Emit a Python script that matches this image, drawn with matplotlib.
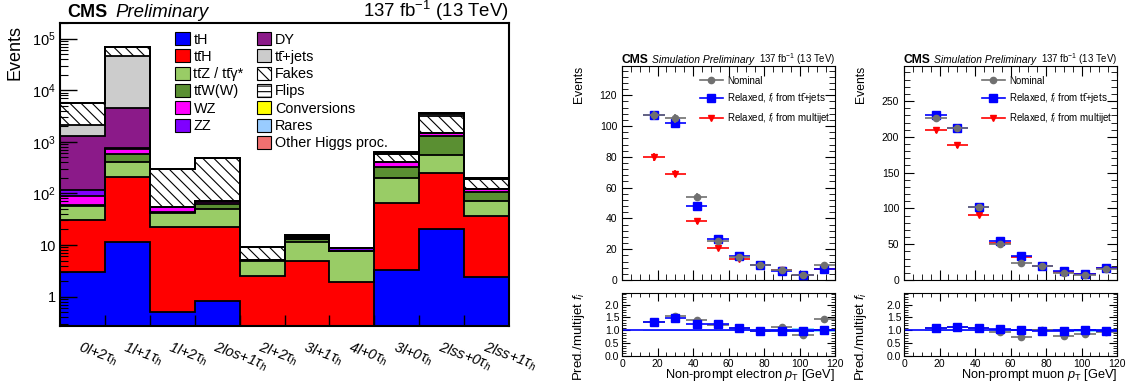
import numpy as np
import matplotlib
matplotlib.use("Agg")
import matplotlib.pyplot as plt
from matplotlib.patches import Patch
from matplotlib.lines import Line2D
from matplotlib.ticker import MultipleLocator, FixedLocator, FixedFormatter, LogLocator, NullFormatter

plt.rcParams['font.family'] = ['Liberation Sans', 'DejaVu Sans']
plt.rcParams['mathtext.fontset'] = 'custom'
plt.rcParams['mathtext.rm'] = 'Liberation Sans'
plt.rcParams['mathtext.it'] = 'Liberation Sans:italic'
plt.rcParams['mathtext.bf'] = 'Liberation Sans:bold'
plt.rcParams['hatch.linewidth'] = 0.8

# ---------------- left: stacked yields per category ----------------
categories = [r"0l+2$\tau_h$", r"1l+1$\tau_h$", r"1l+2$\tau_h$", r"2los+1$\tau_h$",
              r"2l+2$\tau_h$", r"3l+1$\tau_h$", r"4l+0$\tau_h$", r"3l+0$\tau_h$",
              r"2lss+0$\tau_h$", r"2lss+1$\tau_h$"]

tH     = [2.95, 11.2, 0.51, 0.81, 0.05, 0.05, 0.05, 3.3, 20.4, 2.44]
ttH    = [28, 193, 22.1, 21.2, 2.43, 4.75, 1.9, 60.7, 228, 33.5]
ttZ    = [27, 194, 20, 27.8, 2.5, 6.4, 5.55, 134, 304, 34]
ttW    = [1, 182, 1.5, 12, 0.05, 1.6, 0.0, 120, 754, 37]
WZ     = [32, 160, 9.5, 7, 0, 0.5, 0.0, 80, 174, 14]
ZZ     = [27, 20, 0.5, 1, 0, 1.0, 1.1, 12, 20, 2]
DY     = [1190, 3660, 0, 0, 0, 0, 0, 0, 0, 0]
ttjets = [830, 40500, 0, 0, 0, 0, 0, 0, 0, 0]
fakes  = [3610, 25000, 242, 413, 4.0, 1.3, 0.1, 170, 1590, 63]
flips  = [0, 0, 0, 0, 0, 0, 0, 0, 300, 5]
conv   = [0, 0, 0, 0, 0, 0, 0, 20, 150, 6]
rares  = [0, 0, 0, 0, 0, 0, 0, 20, 0, 0]
other  = [0, 0, 0, 0, 0, 0, 0, 0, 0, 0]

TT = "tt\u0304"
procs = [
    (tH, "#0000ff", None, "tH"),
    (ttH, "#ff0000", None, TT + "H"),
    (ttZ, "#99cc66", None, TT + "Z / " + TT + "\u03b3*"),
    (ttW, "#5a8f32", None, TT + "W(W)"),
    (WZ, "#ff00ff", None, "WZ"),
    (ZZ, "#7f00ff", None, "ZZ"),
    (DY, "#8b1a89", None, "DY"),
    (ttjets, "#cccccc", None, TT + "+jets"),
    (fakes, "white", "\\\\\\", "Fakes"),
    (flips, "white", "---", "Flips"),
    (conv, "#ffff00", None, "Conversions"),
    (rares, "#99ccff", None, "Rares"),
    (other, "#f07070", None, "Other Higgs proc."),
]

# ---------------- right: fake-rate closure ----------------
pt = [18, 30, 42, 54, 66, 78, 90, 102, 114]
pt_err = [6] * 9

ele_nom = [107, 105, 54, 25.5, 15, 9.5, 6.5, 3, 9.5]
ele_tt = [107, 102, 48, 26.5, 15.5, 9.5, 6, 3.5, 7]
ele_mj = [80, 69, 38.5, 21, 13.5, 9.5, 6.5, 3, 7]
ele_err = [3, 3, 2.5, 1.5, 1.2, 1, 0.9, 0.7, 1.2]
ele_r_nom = [1.32, 1.55, 1.41, 1.21, 1.1, 0.98, 1.12, 0.81, 1.45]
ele_r_tt = [1.32, 1.48, 1.25, 1.24, 1.08, 0.97, 0.98, 0.98, 1.01]
ele_r_err = [0.04, 0.05, 0.05, 0.06, 0.06, 0.06, 0.08, 0.1, 0.1]
ele_band = [0.02, 0.02, 0.03, 0.03, 0.04, 0.05, 0.06, 0.07, 0.06]

mu_nom = [226, 213, 102, 50, 24, 20, 10, 7, 15.5]
mu_tt = [230, 213, 102, 54, 33, 20, 12, 8.4, 17]
mu_mj = [209, 188, 91, 52, 32, 20, 11, 8.5, 17]
mu_err = [4, 4, 3, 2, 1.6, 1.4, 1.1, 1, 1.4]
mu_r_nom = [1.07, 1.13, 1.08, 0.92, 0.75, 1.0, 0.79, 0.84, 0.94]
mu_r_tt = [1.1, 1.14, 1.1, 1.05, 1.01, 0.97, 0.99, 1.0, 0.97]
mu_r_err = [0.03, 0.03, 0.04, 0.05, 0.05, 0.05, 0.06, 0.07, 0.06]
mu_band = [0.02, 0.02, 0.02, 0.03, 0.03, 0.04, 0.04, 0.05, 0.05]

fig = plt.figure(figsize=(11.28, 3.92), dpi=100)
W, H = 1128.0, 392.0


def px_axes(x0, y0, x1, y1):
    return fig.add_axes([x0 / W, (H - y1) / H, (x1 - x0) / W, (y1 - y0) / H])


# ---- left panel ----
ax = px_axes(60, 23, 509, 326)
n = len(categories)
edges = np.arange(n + 1)
centers = np.arange(n) + 0.5
bottom = np.zeros(n)
levels = []
for vals, col, hatch, lab in procs:
    vals = np.array(vals, dtype=float)
    ax.bar(centers, vals, width=1.0, bottom=bottom, color=col, hatch=hatch,
           edgecolor="black", linewidth=0, zorder=1)
    bottom = bottom + vals
    levels.append(bottom.copy())
for lev in levels:
    ax.stairs(lev, edges, baseline=None, color="black", lw=1.3, zorder=2)

ax.set_yscale("log")
ax.set_ylim(0.27, 2e5)
ax.set_xlim(0, n)
ax.yaxis.set_major_locator(FixedLocator([1, 10, 100, 1e3, 1e4, 1e5]))
ax.yaxis.set_major_formatter(FixedFormatter(["1", "10", r"$10^{2}$", r"$10^{3}$", r"$10^{4}$", r"$10^{5}$"]))
ax.yaxis.set_minor_locator(LogLocator(base=10, subs=np.arange(2, 10)))
ax.yaxis.set_minor_formatter(NullFormatter())
ax.tick_params(axis="y", which="major", direction="in", length=12, width=1, labelsize=10.5, pad=3)
ax.tick_params(axis="y", which="minor", direction="in", length=6, width=0.8)
ax.set_xticks(centers)
ax.set_xticklabels(categories, rotation=-20, ha="left", rotation_mode="anchor",
                   fontstyle="italic", fontsize=10.5)
ax.set_xticks(edges[1:-1], minor=True)
ax.tick_params(axis="x", which="major", length=0, pad=9)
ax.tick_params(axis="x", which="minor", direction="in", length=8, width=1)
for s in ax.spines.values():
    s.set_linewidth(1.5)
ax.set_ylabel("Events", fontsize=13, loc="top")
ax.yaxis.set_label_coords(-0.082, 0.993)

ax.annotate("CMS", xy=(0, 1), xycoords="axes fraction", xytext=(5, 4),
            textcoords="offset points", fontsize=13, fontweight="bold", va="baseline")
ax.annotate("Preliminary", xy=(0, 1), xycoords="axes fraction", xytext=(40, 4),
            textcoords="offset points", fontsize=13.4, fontstyle="italic", va="baseline")
ax.annotate(r"137 fb$^{-1}$ (13 TeV)", xy=(1, 1), xycoords="axes fraction", xytext=(0, 4),
            textcoords="offset points", fontsize=13.4, ha="right", va="baseline")

handles = []
labels = []
for vals, col, hatch, lab in procs:
    handles.append(Patch(facecolor=col, edgecolor="black", hatch=hatch, linewidth=0.8))
    labels.append(lab)
handles.insert(6, Patch(facecolor="none", edgecolor="none"))
labels.insert(6, "")
ax.legend(handles, labels, ncol=2, loc="upper left", bbox_to_anchor=(0.257, 0.97),
          frameon=False, fontsize=10.4, handlelength=1.0, handleheight=1.0,
          handletextpad=0.25, labelspacing=0.2, columnspacing=0.9, borderpad=0,
          borderaxespad=0)


# ---- right panels ----
def closure(x0, x1, nom, tt, mj, err, r_nom, r_tt, r_err, band, ymax, ymaj, ymin_loc, xlab):
    up = px_axes(x0, 66, x1, 280)
    lo = px_axes(x0, 293, x1, 356)

    up.errorbar(pt, mj, xerr=pt_err, yerr=[e * 0.8 for e in err], fmt="v", color="#ff0000",
                ms=4, lw=1.2, capsize=0, zorder=3)
    up.errorbar(pt, tt, xerr=pt_err, yerr=err, fmt="s", color="#0000ff",
                ms=5.5, lw=1.2, capsize=0, zorder=4)
    up.errorbar(pt, nom, xerr=pt_err, yerr=err, fmt="o", color="#707070",
                ms=4.5, lw=1.2, capsize=0, zorder=5)
    up.set_xlim(0, 120)
    up.set_ylim(0, ymax)
    up.xaxis.set_major_locator(MultipleLocator(20))
    up.xaxis.set_minor_locator(MultipleLocator(5))
    up.yaxis.set_major_locator(MultipleLocator(ymaj))
    up.yaxis.set_minor_locator(MultipleLocator(ymin_loc))
    up.tick_params(which="both", direction="in", top=True, right=True, labelsize=7.5)
    up.tick_params(which="major", length=7)
    up.tick_params(which="minor", length=4)
    up.tick_params(axis="x", labelbottom=False)
    up.set_ylabel("Events", fontsize=8.7, loc="top")
    up.yaxis.set_label_coords(-0.174, 1.0)

    leg_h = [Line2D([], [], color="#707070", marker="o", ms=4.5, lw=1.2),
             Line2D([], [], color="#0000ff", marker="s", ms=5.5, lw=1.2),
             Line2D([], [], color="#ff0000", marker="v", ms=4, lw=1.2)]
    leg_l = ["Nominal", r"Relaxed, $f_i$ from " + TT + "+jets", r"Relaxed, $f_i$ from multijet"]
    up.legend(leg_h, leg_l, loc="upper left", bbox_to_anchor=(0.367, 0.955), frameon=False,
              fontsize=7, handlelength=2.3, handletextpad=0.5, labelspacing=0.6,
              borderpad=0, borderaxespad=0)

    up.annotate("CMS", xy=(0, 1), xycoords="axes fraction", xytext=(0, 2.5),
                textcoords="offset points", fontsize=8.7, fontweight="bold", va="baseline")
    up.annotate("Simulation Preliminary", xy=(0, 1), xycoords="axes fraction", xytext=(21.5, 2.5),
                textcoords="offset points", fontsize=7.4, fontstyle="italic", va="baseline")
    up.annotate(r"137 fb$^{-1}$ (13 TeV)", xy=(1, 1), xycoords="axes fraction", xytext=(0, 2.5),
                textcoords="offset points", fontsize=6.9, ha="right", va="baseline")

    bedges = np.array([12, 24, 36, 48, 60, 72, 84, 96, 108, 120])
    b = np.array(band)
    lo.fill_between(bedges, np.append(1 - b, 1 - b[-1]), np.append(1 + b, 1 + b[-1]),
                    step="post", color="#66ccff", alpha=0.8, lw=0, zorder=1)
    lo.axhline(1.0, color="#0000ff", lw=1.2, zorder=2)
    lo.errorbar(pt, r_nom, xerr=pt_err, yerr=r_err, fmt="o", color="#707070",
                ms=4.5, lw=1.2, capsize=0, zorder=3)
    lo.errorbar(pt, r_tt, xerr=pt_err, yerr=r_err, fmt="s", color="#0000ff",
                ms=5.5, lw=1.2, capsize=0, zorder=4)
    lo.set_xlim(0, 120)
    lo.set_ylim(0, 2.45)
    lo.xaxis.set_major_locator(MultipleLocator(20))
    lo.xaxis.set_minor_locator(MultipleLocator(5))
    lo.yaxis.set_major_locator(MultipleLocator(0.5))
    lo.yaxis.set_minor_locator(MultipleLocator(0.1))
    lo.yaxis.set_major_formatter(matplotlib.ticker.FormatStrFormatter("%.1f"))
    lo.tick_params(which="both", direction="in", top=True, right=True, labelsize=7.5, pad=2)
    lo.tick_params(which="major", length=6)
    lo.tick_params(which="minor", length=3)
    lo.set_ylabel(r"Pred./multijet $f_i$", fontsize=9.5, loc="top")
    lo.yaxis.set_label_coords(-0.164, 1.02)
    lo.set_xlabel(xlab, fontsize=9.2, loc="right")
    lo.xaxis.set_label_coords(1.0, -0.17)
    return up, lo


closure(622, 835, ele_nom, ele_tt, ele_mj, ele_err, ele_r_nom, ele_r_tt, ele_r_err, ele_band,
        139, 20, 4, r"Non-prompt electron $p_{\mathrm{T}}$ [GeV]")
closure(904, 1117, mu_nom, mu_tt, mu_mj, mu_err, mu_r_nom, mu_r_tt, mu_r_err, mu_band,
        299, 50, 10, r"Non-prompt muon $p_{\mathrm{T}}$ [GeV]")

fig.savefig("out.png", dpi=100)
